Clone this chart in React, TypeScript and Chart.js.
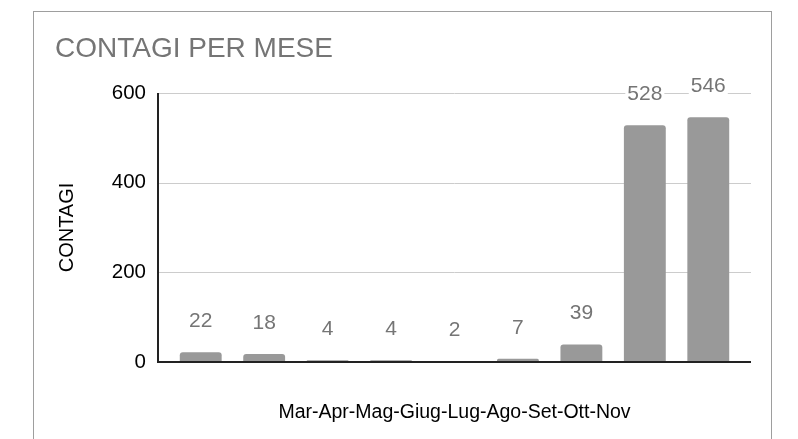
import React, { useEffect, useRef } from "react";
import { Chart, registerables } from "chart.js";

Chart.register(...registerables);

const months = ["Mar", "Apr", "Mag", "Giug", "Lug", "Ago", "Set", "Ott", "Nov"];
const contagi = [22, 18, 4, 4, 2, 7, 39, 528, 546];
const yTicks = [0, 200, 400, 600];
const chartTitle = "CONTAGI PER MESE";
const yTitle = "CONTAGI";
const xTitle = "Mar-Apr-Mag-Giug-Lug-Ago-Set-Ott-Nov";

const FONT = "'Liberation Sans', Arial, Helvetica, sans-serif";

const framePlugin = {
  id: "frame",
  beforeDraw(chart: any) {
    const { ctx, width, height } = chart;
    ctx.save();
    ctx.fillStyle = "#ffffff";
    ctx.fillRect(0, 0, width, height);
    ctx.strokeStyle = "#9e9e9e";
    ctx.lineWidth = 1;
    ctx.strokeRect(33.5, 11.5, 738, 500);
    ctx.restore();
  },
  beforeDatasetsDraw(chart: any) {
    const { ctx, chartArea } = chart;
    const y = chart.scales.y;
    const left = chartArea.left - 11;
    const right = chartArea.right + 11;
    ctx.save();
    ctx.strokeStyle = "#cccccc";
    ctx.lineWidth = 1;
    yTicks.forEach((v) => {
      if (v === 0) return;
      const py = Math.round(y.getPixelForValue(v)) + 0.5;
      ctx.beginPath();
      ctx.moveTo(left, py);
      ctx.lineTo(right, py);
      ctx.stroke();
    });
    ctx.restore();
  },
  afterDatasetsDraw(chart: any) {
    const { ctx, chartArea } = chart;
    const y = chart.scales.y;
    const left = chartArea.left - 11;
    const right = chartArea.right + 11;
    const top = y.getPixelForValue(yTicks[yTicks.length - 1]);
    const base = y.getPixelForValue(0);
    ctx.save();
    ctx.strokeStyle = "#222222";
    ctx.lineWidth = 2;
    ctx.beginPath();
    ctx.moveTo(left, top);
    ctx.lineTo(left, base);
    ctx.lineTo(right, base);
    ctx.stroke();

    ctx.font = `21px ${FONT}`;
    ctx.textAlign = "center";
    ctx.textBaseline = "middle";
    const meta = chart.getDatasetMeta(0);
    meta.data.forEach((bar: any, i: number) => {
      const text = String(contagi[i]);
      const cx = bar.x;
      const cy = bar.y - 31;
      const w = ctx.measureText(text).width + 4;
      ctx.fillStyle = "#ffffff";
      ctx.fillRect(cx - w / 2, cy - 10, w, 20);
      ctx.fillStyle = "#757575";
      ctx.fillText(text, cx, cy);
    });
    ctx.restore();
  },
};

export default function App() {
  const ref = useRef<HTMLCanvasElement | null>(null);

  useEffect(() => {
    if (!ref.current) return;
    const chart = new Chart(ref.current, {
      type: "bar",
      data: {
        labels: months,
        datasets: [
          {
            data: contagi,
            backgroundColor: "#999999",
            borderRadius: 3,
            borderSkipped: "start",
            barPercentage: 0.66,
            categoryPercentage: 1,
          },
        ],
      },
      options: {
        responsive: false,
        animation: false,
        layout: { padding: { left: 55, right: 58, top: 10, bottom: 0 } },
        plugins: {
          legend: { display: false },
          tooltip: { enabled: false },
          title: {
            display: true,
            text: chartTitle,
            align: "start",
            color: "#757575",
            font: { family: FONT, size: 28, weight: "normal" },
            padding: { top: 22.2, bottom: 27.2 },
          },
        },
        scales: {
          x: {
            offset: true,
            grid: { display: false, drawTicks: false },
            border: { display: false },
            ticks: { display: false },
            title: {
              display: true,
              text: xTitle,
              color: "#000000",
              font: { family: FONT, size: 19.5 },
              padding: { top: 39.3, bottom: 14.3 },
            },
          },
          y: {
            min: 0,
            max: 600,
            grid: { display: false, drawTicks: false },
            border: { display: false },
            afterBuildTicks: (scale: any) => {
              scale.ticks = yTicks.map((v) => ({ value: v }));
            },
            afterFit: (scale: any) => {
              scale.width = 114;
            },
            ticks: {
              color: "#000000",
              padding: 23,
              font: { family: FONT, size: 20.5 },
            },
            title: {
              display: true,
              text: yTitle,
              color: "#000000",
              font: { family: FONT, size: 20 },
              padding: { top: 0, bottom: 0 },
            },
          },
        },
      },
      plugins: [framePlugin],
    });
    return () => chart.destroy();
  }, []);

  return (
    <div style={{ position: "absolute", left: 0, top: 0, width: 798, height: 439 }}>
      <canvas ref={ref} width={798} height={439} style={{ display: "block" }} />
    </div>
  );
}
